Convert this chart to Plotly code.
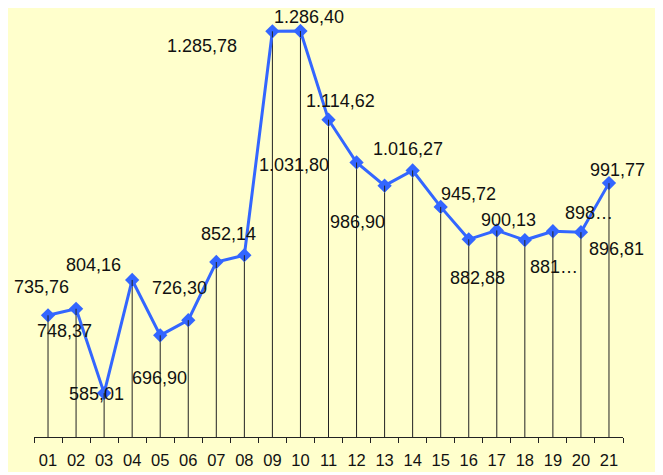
import plotly.graph_objects as go

categories = ["01", "02", "03", "04", "05", "06", "07", "08", "09", "10", "11",
              "12", "13", "14", "15", "16", "17", "18", "19", "20", "21"]
values = [735.76, 748.37, 585.01, 804.16, 696.90, 726.30, 839.0, 852.14, 1285.78, 1286.40, 1114.62,
          1031.80, 986.90, 1016.27, 945.72, 882.88, 900.13, 881.5, 898.5, 896.81, 991.77]
labels = ["735,76", "748,37", "585,01", "804,16", "696,90", "726,30", "", "852,14", "1.285,78", "1.286,40", "1.114,62",
          "1.031,80", "986,90", "1.016,27", "945,72", "882,88", "900,13", "881…", "898…", "896,81", "991,77"]

# pixel offsets of each data label from its point (x right, y down)
label_offsets = [(-7, -28), (-12, 22), (-8, 1), (-39, -15), (-1, 43), (-9, -32), (0, 0), (-16, -21),
                 (-70, 15), (9, -14), (12, -19), (-63, 3), (-27, 36), (-5, -21), (28, -13), (9, 39),
                 (12, -10), (29, 27), (36, -18), (36, 17), (9, -13)]

y_min, y_max = 500, 1300
blue = "#3366FF"

fig = go.Figure()

# drop lines from each point down to the axis
for c, v in zip(categories, values):
    fig.add_trace(go.Scatter(x=[c, c], y=[v, y_min], mode="lines",
                             line=dict(color="#222222", width=1), hoverinfo="skip"))

fig.add_trace(go.Scatter(
    x=categories, y=values, mode="lines+markers",
    line=dict(color=blue, width=3),
    marker=dict(symbol="diamond", size=11, color=blue),
    hoverinfo="x+y",
))

# short bits of the drop lines again on top so they show through the markers
for c, v in zip(categories, values):
    fig.add_trace(go.Scatter(x=[c, c], y=[v, v - 12], mode="lines",
                             line=dict(color="#222222", width=1), hoverinfo="skip"))

# "01" etc. would be read as numbers by annotations, so use the category index
for i, (v, t, (dx, dy)) in enumerate(zip(values, labels, label_offsets)):
    if not t:
        continue
    fig.add_annotation(x=i, y=v, text=t, showarrow=False, xshift=dx, yshift=-dy,
                       font=dict(size=18, color="#111111"))

# page body has an 8px margin, so the figure is 8px smaller than the window
plot_w, plot_h = 589, 413
fig.add_shape(type="rect", xref="paper", yref="paper",
              x0=-26 / plot_w, x1=(647 - 26) / plot_w, y0=-35 / plot_h, y1=(429 + 2) / plot_h,
              fillcolor="#FFFFCC", line=dict(width=0), layer="below")

fig.update_layout(
    width=655, height=467,
    margin=dict(l=26, r=40, t=16, b=38),
    paper_bgcolor="white", plot_bgcolor="rgba(0,0,0,0)",
    showlegend=False,
    font=dict(family="Liberation Sans, Arial, sans-serif", color="#111111"),
)
fig.update_xaxes(type="category", categoryorder="array", categoryarray=categories,
                 range=[-0.5, len(categories) - 0.5], tickangle=0, automargin=False,
                 showgrid=False, showline=True, linecolor="#222222", linewidth=1,
                 ticks="outside", tickson="boundaries", ticklen=5, tickcolor="#222222",
                 tickfont=dict(size=16.5), ticklabelstandoff=8, zeroline=False)
fig.update_yaxes(range=[y_min, y_max], visible=False, showgrid=False, zeroline=False)

fig.write_html("out.html")
